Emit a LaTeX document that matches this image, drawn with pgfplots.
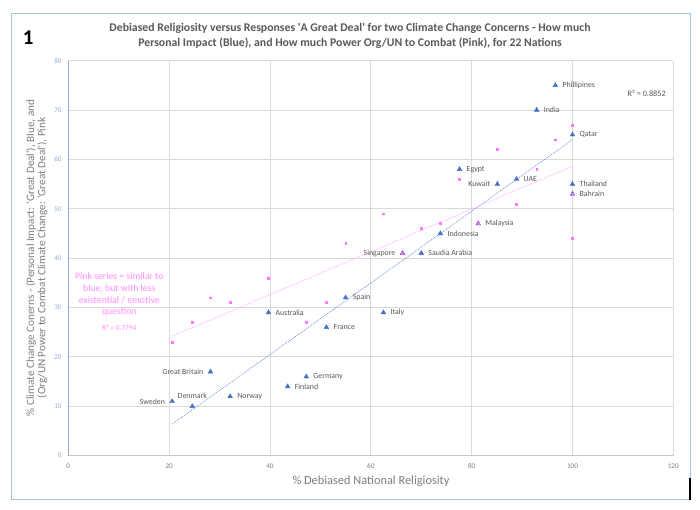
\documentclass[border=0pt]{standalone}
\usepackage{fontspec}
\setmainfont{Carlito}
\usepackage{pgfplots}
\pgfplotsset{compat=1.18}
\usepackage{pgfplotstable}
\newcommand{\sq}{\textquotesingle}

\definecolor{bluept}{HTML}{4472C4}
\definecolor{bluetrend}{HTML}{7396D8}
\definecolor{pinkpt}{HTML}{FF66FF}
\definecolor{pinktrend}{HTML}{FFA6FF}
\definecolor{pinktext}{HTML}{FF8CFF}
\definecolor{gridgray}{HTML}{D9D9D9}
\definecolor{axgray}{HTML}{C8C8C8}
\definecolor{textgray}{HTML}{595959}
\definecolor{labelgray}{HTML}{7F7F7F}
\definecolor{ytickblue}{HTML}{8FAADC}
\definecolor{frameblue}{HTML}{A8C3E8}

% blue points, labels to the right
\pgfplotstableread[col sep=comma]{
name,x,y
Phillipines,96.6,75
India,92.9,70
Qatar,100,65
Egypt,77.6,58
UAE,88.9,56
Thailand,100,55
Bahrain,100,53
Malaysia,81.3,47
Indonesia,73.8,45
Saudia Arabia,70,41
Spain,55,32
Italy,62.5,29
Australia,39.7,29
France,51.2,26
Germany,47.2,16
Finland,43.5,14
Norway,32.1,12
}\bluewest

% blue points, labels to the left
\pgfplotstableread[col sep=comma]{
name,x,y
Kuwait,85.1,55
Singapore,66.3,41
Great Britain,28.2,17
Sweden,20.6,11
}\blueeast

% blue point, label above
\pgfplotstableread[col sep=comma]{
name,x,y
Denmark,24.6,10
}\bluedk

\pgfplotstableread{
x y
20.6 23
24.6 27
28.2 32
32.1 31
39.7 36
47.2 27
51.2 31
55 43
62.5 49
66.3 41
70 46
73.8 47
81.3 47
77.6 56
85 62
88.9 51
92.9 58
96.6 64
100 67
100 44
100 53
}\pinkdata

\pgfplotsset{
  bluestyle/.style={only marks, mark=triangle*, mark size=2.7bp, color=bluept,
    mark options={fill=bluept, draw=bluept},
    nodes near coords, point meta=explicit symbolic},
}
\tikzset{lbl/.style={font=\fontsize{7.9}{9}\selectfont, text=textgray}}

\begin{document}
\begin{tikzpicture}[x=1bp,y=1bp]
\useasboundingbox (0,0) rectangle (700,510);
\fill[white] (0,0) rectangle (700,510);
\draw[frameblue, line width=1bp] (11,10.7) rectangle (690,496.7);
\draw[black, line width=1.2bp] (690,10.2) -- (690,32);
\node[font=\fontsize{21}{24}\selectfont\bfseries] at (28.3,472.7) {1};
\node[text=textgray, align=center, font=\fontsize{11.8}{15}\selectfont\bfseries] at (350,474.5)
  {Debiased Religiosity versus Responses \sq A Great Deal\sq{} for two Climate Change Concerns - How much\\Personal Impact (Blue), and How much Power Org/UN to Combat (Pink), for 22 Nations};

\begin{axis}[
  at={(68.3bp,54.3bp)}, anchor=south west,
  width=605bp, height=395.1bp, scale only axis,
  xmin=0, xmax=120, ymin=0, ymax=80,
  xtick={0,20,...,120}, ytick={0,10,...,80},
  grid=major, grid style={gridgray, line width=0.9bp},
  axis x line*=bottom, axis y line*=left,
  x axis line style={-, draw=axgray, line width=1.1bp},
  y axis line style={-, draw=ytickblue, line width=1.3bp},
  major tick length=0pt,
  /pgf/number format/assume math mode=true,
  tick label style={font=\fontsize{7.2}{8}\selectfont},
  xticklabel style={text=labelgray, inner sep=0pt, anchor=north, yshift=-7.5bp},
  yticklabel style={text=ytickblue, inner sep=0pt, anchor=east, xshift=-6.5bp},
  clip=false,
]
\addplot[bluetrend, densely dotted, line width=0.8bp] coordinates {(20.6,6.4) (100,64)};
\addplot[pinktrend, densely dotted, line width=0.8bp] coordinates {(20.6,24.2) (100,58.6)};
\addplot[bluestyle,
  every node near coord/.append style={lbl, anchor=west, inner xsep=7bp, inner ysep=0pt}]
  table[x=x, y=y, meta=name] {\bluewest};
\addplot[bluestyle,
  every node near coord/.append style={lbl, anchor=east, inner xsep=7bp, inner ysep=0pt}]
  table[x=x, y=y, meta=name] {\blueeast};
\addplot[bluestyle,
  every node near coord/.append style={lbl, anchor=center, yshift=10.5bp, inner sep=0pt}]
  table[x=x, y=y, meta=name] {\bluedk};
\addplot[only marks, mark=square*, mark size=0.9bp, color=pinkpt,
  mark options={fill=pinkpt, draw=pinkpt, fill opacity=0.85, draw opacity=0.85}]
  table[x=x, y=y] {\pinkdata};
\end{axis}

\node[text=pinktext, align=center, font=\fontsize{9.8}{11.7}\selectfont] at (119.3,215.2)
  {Pink series = similar to\\blue, but with less\\existential / emotive\\question};
\node[text=pinktext, font=\fontsize{7.5}{8}\selectfont] at (119.3,182.3) {R² = 0.7794};
\node[text=textgray, font=\fontsize{8.3}{9}\selectfont] at (646.7,416.7) {R² = 0.8852};
\node[text=labelgray, rotate=90, align=center, font=\fontsize{11.2}{11.3}\selectfont] at (36.7,252)
  {\% Climate Change Conerns - (Personal Impact: \sq Great Deal\sq), Blue, and\\(Org/UN Power to Combat Climate Change: \sq Great Deal\sq), Pink};
\node[text=labelgray, font=\fontsize{12.4}{13}\selectfont] at (371,29) {\% Debiased National Religiosity};
\end{tikzpicture}
\end{document}
